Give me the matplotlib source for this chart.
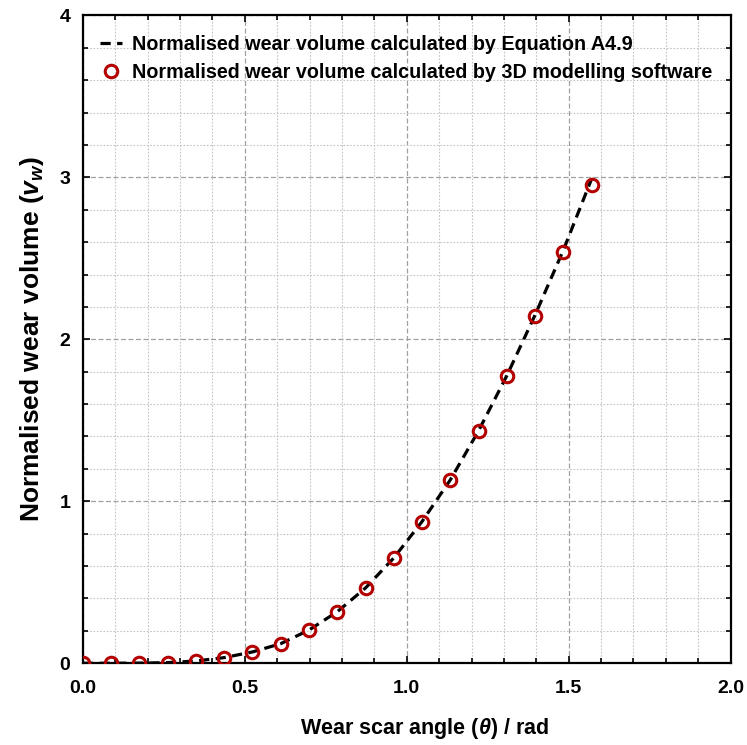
import matplotlib
matplotlib.use("Agg")
import matplotlib.pyplot as plt
from matplotlib.ticker import MultipleLocator, FormatStrFormatter

plt.rcParams['font.family'] = ['Liberation Sans', 'DejaVu Sans']
plt.rcParams['font.weight'] = 'bold'
plt.rcParams['mathtext.fontset'] = 'custom'
plt.rcParams['mathtext.it'] = 'Liberation Sans:italic:bold'
plt.rcParams['mathtext.rm'] = 'Liberation Sans:bold'

# wear scar angle, 5 degree steps from 0 to pi/2
theta = [0.0, 0.0873, 0.1745, 0.2618, 0.3491, 0.4363, 0.5236, 0.6109, 0.6981,
         0.7854, 0.8727, 0.9599, 1.0472, 1.1345, 1.2217, 1.3090, 1.3963,
         1.4835, 1.5708]
# normalised volume from the 3D model
v_model = [0.0, 0.0003, 0.001, 0.004, 0.014, 0.035, 0.070, 0.121, 0.205,
           0.318, 0.465, 0.650, 0.875, 1.132, 1.435, 1.775, 2.146,
           2.538, 2.955]
# normalised volume from Equation A4.9
v_eq = [0.0, 0.0003, 0.001, 0.004, 0.014, 0.035, 0.070, 0.121, 0.205,
        0.318, 0.465, 0.650, 0.875, 1.132, 1.435, 1.775, 2.150,
        2.550, 2.990]

fig = plt.figure(figsize=(7.47, 7.45), dpi=100)
ax = fig.add_axes([0.111, 0.1097, 0.867, 0.8697])

ax.plot(theta, v_eq, color='black', linestyle=(0, (3.2, 2.0)), linewidth=2.3,
        label='Normalised wear volume calculated by Equation A4.9', zorder=3)
ax.plot(theta, v_model, linestyle='none', marker='o', markersize=9,
        markerfacecolor='none', markeredgecolor='#b30000', markeredgewidth=2.2,
        label='Normalised wear volume calculated by 3D modelling software', zorder=4)

ax.set_xlim(0, 2.0)
ax.set_ylim(0, 4)
ax.xaxis.set_major_locator(MultipleLocator(0.5))
ax.xaxis.set_minor_locator(MultipleLocator(0.1))
ax.yaxis.set_major_locator(MultipleLocator(1))
ax.yaxis.set_minor_locator(MultipleLocator(0.2))
ax.xaxis.set_major_formatter(FormatStrFormatter('%.1f'))
ax.yaxis.set_major_formatter(FormatStrFormatter('%d'))

ax.grid(which='major', color='#a0a0a0', linestyle=(0, (4, 2)), linewidth=0.9)
ax.grid(which='minor', color='#c4c4c4', linestyle=(0, (1.5, 1.5)), linewidth=0.8)
ax.set_axisbelow(True)

ax.tick_params(which='both', direction='in', top=True, right=True,
               labelsize=14, width=1.2)
ax.tick_params(axis='x', pad=12)
ax.tick_params(axis='y', pad=9)
ax.tick_params(which='major', length=5)
ax.tick_params(which='minor', length=3.5)
for sp in ax.spines.values():
    sp.set_linewidth(1.6)

ax.set_xlabel(r'Wear scar angle ($\theta$) / rad', fontsize=15.5, fontweight='bold', labelpad=14)
ax.xaxis.label.set_x(0.528)
ax.set_ylabel(r'Normalised wear volume ($v_w$)', fontsize=19, fontweight='bold', labelpad=10)

ax.legend(loc='upper left', bbox_to_anchor=(0.0142, 0.9826), frameon=False,
          handlelength=1.13, handletextpad=0.5, borderaxespad=0, labelspacing=0.5,
          prop={'weight': 'bold', 'size': 14.2})

fig.savefig('out.png', dpi=100)
